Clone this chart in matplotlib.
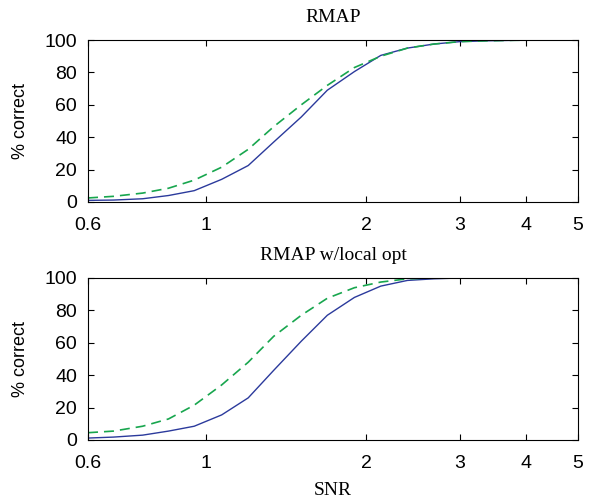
import matplotlib
matplotlib.use('Agg')
import matplotlib.pyplot as plt
from matplotlib.ticker import FixedLocator, NullLocator, FixedFormatter

# SNR grid (about 1 dB steps)
snr = [0.6, 0.67, 0.76, 0.85, 0.95, 1.07, 1.2, 1.34, 1.51, 1.69, 1.9, 2.13,
       2.39, 2.68, 3.0, 3.37, 3.79, 4.25, 4.77, 5.0]

# RMAP
rmap_solid = [1, 1.2, 2, 4, 7, 14, 22.5, 37, 52.5, 69, 80.5, 90.5,
              95, 97.5, 99, 99.5, 99.8, 100, 100, 100]
rmap_dash = [2.5, 3.5, 5.5, 8.5, 13.5, 21.5, 32.5, 46.5, 60, 72, 83, 90,
             95, 97.5, 99, 99.5, 99.8, 100, 100, 100]

# RMAP w/local opt
lopt_solid = [1.2, 1.8, 3, 5.5, 8.5, 15.5, 26, 43, 61, 77, 88, 95,
              98.5, 99.5, 100, 100, 100, 100, 100, 100]
lopt_dash = [4.5, 5.5, 8.5, 13, 21.5, 34, 48, 64, 77, 87.5, 94, 97.5,
             99.5, 100, 100, 100, 100, 100, 100, 100]

xticks = [0.6, 1, 2, 3, 4, 5]
xticklabels = ['0.6', '1', '2', '3', '4', '5']
yticks = [0, 20, 40, 60, 80, 100]

blue = '#2b3a9c'
green = '#18a64e'

plt.rcParams['font.family'] = ['Liberation Sans', 'DejaVu Sans']

fig = plt.figure(figsize=(6, 5), dpi=100)
ax1 = fig.add_axes([0.1467, 0.596, 0.8166, 0.324])
ax2 = fig.add_axes([0.1467, 0.12, 0.8166, 0.324])

for ax, ys, yd, titulo in [(ax1, rmap_solid, rmap_dash, 'RMAP'),
                           (ax2, lopt_solid, lopt_dash, 'RMAP w/local opt')]:
    ax.plot(snr, ys, '-', color=blue, lw=1.0)
    ax.plot(snr, yd, '--', color=green, lw=1.2, dashes=(6, 3.6))
    ax.set_xscale('log')
    ax.set_xlim(0.6, 5)
    ax.set_ylim(0, 100)
    ax.xaxis.set_major_locator(FixedLocator(xticks))
    ax.xaxis.set_major_formatter(FixedFormatter(xticklabels))
    ax.xaxis.set_minor_locator(NullLocator())
    ax.set_yticks(yticks)
    ax.tick_params(direction='in', top=True, right=True, length=4,
                   width=0.8, labelsize=14)
    ax.tick_params(axis='x', pad=11)
    ax.tick_params(axis='y', pad=8)
    for s in ax.spines.values():
        s.set_linewidth(0.8)
    ax.set_title(titulo, family='Liberation Serif', fontsize=14, pad=13)
    ax.set_ylabel('% correct', fontsize=13, labelpad=11)

ax2.set_xlabel('SNR', family='Liberation Serif', fontsize=14, labelpad=7)

fig.savefig('out.png', dpi=100)
